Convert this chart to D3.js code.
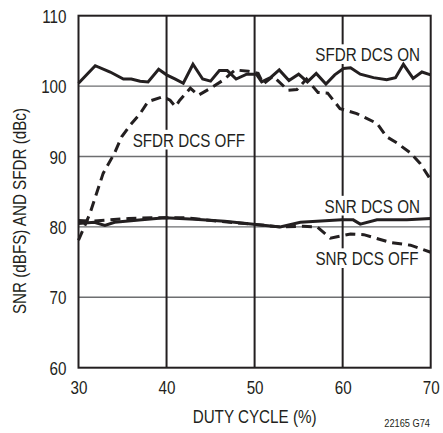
<!DOCTYPE html>
<html><head><meta charset="utf-8">
<script src="https://cdn.jsdelivr.net/npm/d3@7"></script>
<style>
html,body{margin:0;padding:0;background:#fff;}
text{font-family:"Liberation Sans",Arial,sans-serif;fill:#231f20;}
</style></head>
<body>
<svg id="c" width="443" height="433"></svg>
<script>
const xTicks = [30, 40, 50, 60, 70];
const yTicks = [60, 70, 80, 90, 100, 110];

const sfdrOnX = [30,31.9,33.6,35.1,36.0,37.0,37.9,39.1,40.0,41.0,41.9,43.0,44.1,45.0,46.0,46.9,47.9,49.1,50.2,50.8,51.8,52.8,53.9,55.0,56.0,57.0,58.1,59.1,60.1,60.9,62.0,63.5,65.0,66.0,66.9,68.0,69.0,70];
const sfdrOnY = [100.4,102.9,102.0,101.0,101.0,100.7,100.6,102.4,101.6,101.0,100.4,103.1,101.0,100.7,102.2,102.2,101.0,101.7,101.7,100.6,101.2,102.3,100.8,101.7,100.6,101.8,100.3,101.6,102.5,102.6,101.7,101.2,100.9,101.2,103.1,101.1,102.0,101.6];

const sfdrOffX = [30,31.3,32.8,34.1,34.9,35.9,37.0,37.9,39.6,40.4,41.0,41.5,42.7,43.6,45.0,46.5,47.8,49.3,50.4,51.0,52.1,53.8,54.8,55.9,57.2,58.3,59.7,61.6,63.9,65.0,66.2,67.7,68.8,70];
const sfdrOffY = [78.1,81.9,87.6,90.5,92.8,94.5,96.1,97.8,98.5,98.0,97.1,98.0,99.7,98.7,99.7,100.9,102.3,102.1,101.8,100.3,101.4,99.4,99.5,101.0,99.1,99.0,96.8,96.1,94.7,92.8,91.9,90.5,89.0,86.7];

const snrOnX = [30,31.8,33.0,34.1,37.2,39.8,43.2,46.6,49.6,52.9,55.2,59.9,61.2,62.0,63.9,67.3,70];
const snrOnY = [80.5,80.65,80.2,80.65,81.0,81.3,81.1,80.8,80.4,80.0,80.65,81.0,81.0,80.4,81.0,81.0,81.2];

const snrOffX = [30,31.5,35.7,38.3,42.1,45.9,49.6,52.9,55.5,57.1,58.6,60.9,62.4,65.4,67.7,70];
const snrOffY = [80.9,80.8,81.2,81.3,81.3,80.8,80.4,80.0,80.1,80.0,78.4,79.0,78.9,77.8,77.4,76.4];

const seriesLabels = ["SFDR DCS ON", "SFDR DCS OFF", "SNR DCS ON", "SNR DCS OFF"];

const svg = d3.select("#c");
const L = 78.5, R = 430.7, T = 15.7, B = 367.7;
const FS = 19, NARROW = 0.8;
const x = d3.scaleLinear().domain([30, 70]).range([L, R]);
const y = d3.scaleLinear().domain([60, 110]).range([B, T]);

function narrow(sel, f) {
  sel.each(function () {
    const w = this.getComputedTextLength();
    d3.select(this).attr("textLength", w * f).attr("lengthAdjust", "spacingAndGlyphs");
  });
}

// horizontal gridlines
svg.append("g").selectAll("line").data(yTicks.slice(1, -1)).join("line")
  .attr("x1", L).attr("x2", R).attr("y1", d => y(d)).attr("y2", d => y(d))
  .attr("stroke", "#6d6e70").attr("stroke-width", 1.4);
// vertical gridlines
svg.append("g").selectAll("line").data(xTicks.slice(1, -1)).join("line")
  .attr("y1", T).attr("y2", B).attr("x1", d => x(d)).attr("x2", d => x(d))
  .attr("stroke", "#231f20").attr("stroke-width", 2);

// label backgrounds (break the gridlines), drawn below data lines
const labs = [
  {t: seriesLabels[0], x: 420, y: 61, a: "end"},
  {t: seriesLabels[1], x: 132.7, y: 146.5, a: "start"},
  {t: seriesLabels[2], x: 420, y: 212.5, a: "end"},
  {t: seriesLabels[3], x: 418.5, y: 265, a: "end"}
];
const bgG = svg.append("g");
const lineG = svg.append("g");
const lg = svg.append("g");
labs.forEach(l => {
  const tx = lg.append("text").attr("x", l.x).attr("y", l.y).attr("text-anchor", l.a)
    .attr("font-size", FS).text(l.t);
  narrow(tx, NARROW);
  const bb = tx.node().getBBox();
  const cap = FS * 0.72;
  bgG.append("rect").attr("x", bb.x - 3).attr("y", l.y - cap - 3).attr("width", bb.width + 6).attr("height", cap + 6).attr("fill", "#fff");
});

// series
const mk = (xs, ys) => xs.map((v, i) => [v, ys[i]]);
const line = d3.line().x(d => x(d[0])).y(d => y(d[1]));
const series = [
  {d: mk(sfdrOffX, sfdrOffY), dash: "10,6"},
  {d: mk(snrOffX, snrOffY), dash: "10,6"},
  {d: mk(sfdrOnX, sfdrOnY), dash: null},
  {d: mk(snrOnX, snrOnY), dash: null}
];
lineG.selectAll("path").data(series).join("path")
  .attr("d", s => line(s.d)).attr("fill", "none")
  .attr("stroke", "#231f20").attr("stroke-width", 3)
  .attr("stroke-linejoin", "miter").attr("stroke-dasharray", s => s.dash);

// frame
svg.append("rect").attr("x", L).attr("y", T).attr("width", R - L).attr("height", B - T)
  .attr("fill", "none").attr("stroke", "#231f20").attr("stroke-width", 2);

// axes
const xa = svg.append("g").attr("transform", `translate(0,${B})`)
  .call(d3.axisBottom(x).tickValues(xTicks).tickSize(0).tickPadding(26).tickFormat(d3.format("d")));
xa.select(".domain").remove();
xa.attr("font-family", null).attr("font-size", null);
xa.selectAll("text").attr("font-size", FS).attr("dy", 0).attr("fill", null);

const ya = svg.append("g").attr("transform", `translate(${L},0)`)
  .call(d3.axisLeft(y).tickValues(yTicks).tickSize(0).tickPadding(12).tickFormat(d3.format("d")));
ya.select(".domain").remove();
ya.attr("font-family", null).attr("font-size", null);
ya.selectAll("text").attr("font-size", FS).attr("dy", 6.5).attr("fill", null);
narrow(svg.selectAll(".tick text"), NARROW);

const xt = svg.append("text").attr("x", (L + R) / 2).attr("y", 423).attr("text-anchor", "middle")
  .attr("font-size", FS).text("DUTY CYCLE (%)");
narrow(xt, NARROW);
const yt = svg.append("text").attr("transform", "translate(26,211) rotate(-90)").attr("text-anchor", "middle")
  .attr("font-size", FS).text("SNR (dBFS) AND SFDR (dBc)");
narrow(yt, NARROW);
const nt = svg.append("text").attr("x", 430).attr("y", 426.5).attr("text-anchor", "end")
  .attr("font-size", 10.5).text("22165 G74");
narrow(nt, 0.88);
</script>
</body></html>
